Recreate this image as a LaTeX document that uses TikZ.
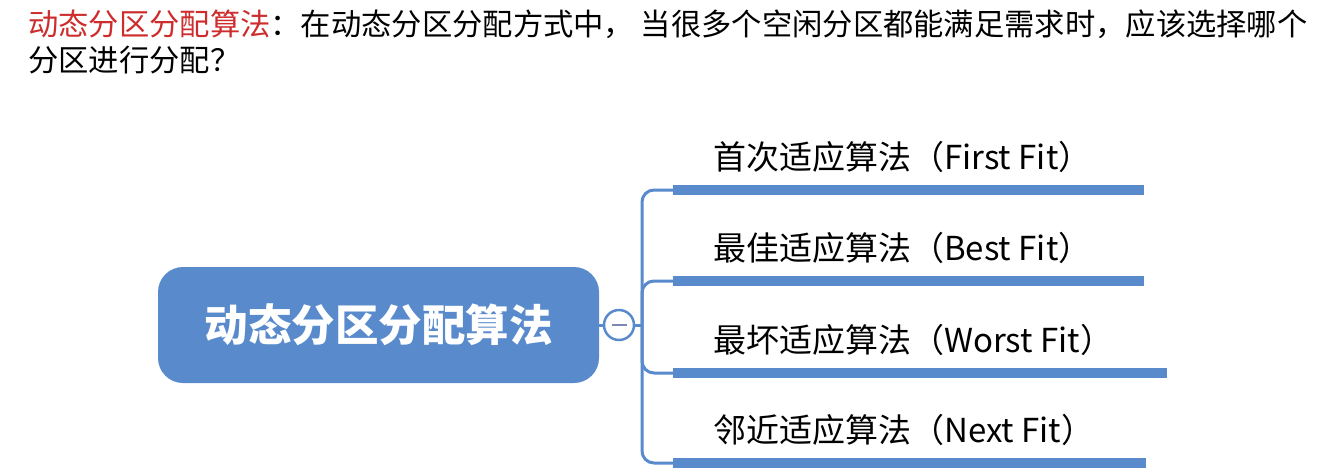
\documentclass[tikz,border=0pt]{standalone}
\usepackage{fontspec}
\newfontfamily\cjk{Noto Sans CJK SC}
\usetikzlibrary{positioning}

\definecolor{mapblue}{RGB}{88,138,204}
\definecolor{foldgrey}{RGB}{125,135,175}
\definecolor{titlered}{RGB}{205,45,45}

\tikzset{
  root/.style={rectangle, rounded corners=25pt, fill=mapblue, text=white,
    minimum width=441pt, minimum height=116pt, inner sep=0pt,
    font=\cjk\bfseries\fontsize{43.5}{50}\selectfont},
  fold/.style={circle, draw=mapblue, fill=white, line width=2.5pt,
    minimum size=30pt, inner sep=0pt},
  bar/.style={rectangle, fill=mapblue, minimum height=10pt, inner sep=0pt, anchor=west},
  branch/.style={draw=mapblue, line width=3pt, rounded corners=12pt},
  leaf/.style={anchor=base west, inner sep=0pt, font=\cjk\fontsize{33}{40}\selectfont},
  title/.style={anchor=base west, inner sep=0pt, font=\cjk\fontsize{30.3}{36}\selectfont}
}

\begin{document}
\begin{tikzpicture}[x=1pt,y=-1pt]
        \useasboundingbox (0,0) rectangle (1340,475);

        % Draw title lines
        \node[title] (title) at (28,35) {{\color{titlered}动态分区分配算法}：在动态分区分配方式中， 当很多个空闲分区都能满足需求时，应该选择哪个};
        \node[title] (title2) at (28,71) {分区进行分配？};

        % Draw root and fold button
        \node[root] (root) at (378.5,325) {动态分区分配算法};
        \node[fold] (fold) at (619,325) {};
        \draw[foldgrey, line width=2.5pt] ([xshift=-7.5pt]fold.center) -- ([xshift=7.5pt]fold.center);
        \coordinate (spine) at (642,325);
        \draw[branch] (root.east) -- (fold.west);
        \draw[branch] (fold.east) -- (spine);

        % Draw branches
        \foreach \i/\y/\w/\txt in {1/190/471/{首次适应算法（First Fit）},
                                    2/281/471/{最佳适应算法（Best Fit）},
                                    3/373/494/{最坏适应算法（Worst Fit）},
                                    4/463/473/{邻近适应算法（Next Fit）}} {
          \node[bar, minimum width=\w pt] (bar\i) at (673,\y) {};
          \node[leaf] (leaf\i) at (713,\y-21) {\txt};
          \draw[branch] (spine) |- (bar\i.west);
        }
    \end{tikzpicture}
\end{document}
